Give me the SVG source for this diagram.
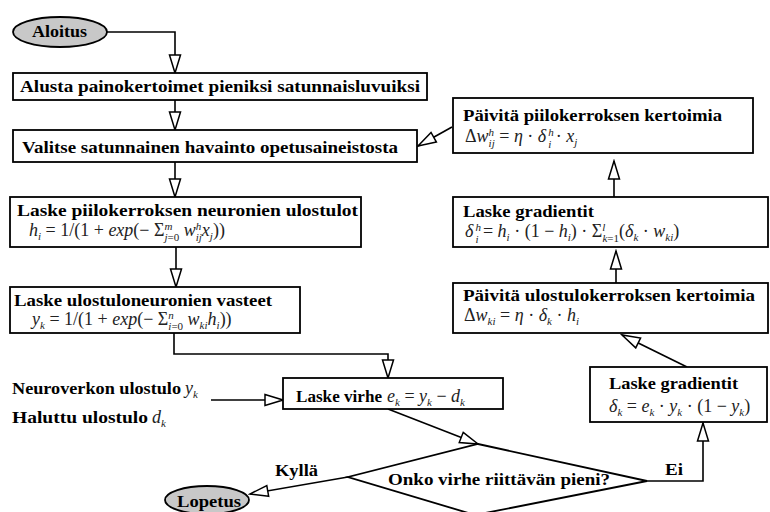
<svg xmlns="http://www.w3.org/2000/svg" width="770" height="512" viewBox="0 0 770 512">
<style>
.b{font-family:"Liberation Serif","Times New Roman",serif;font-weight:bold;font-size:16px;fill:#000}
.m{font-family:"Liberation Serif","Times New Roman",serif;font-style:italic;font-size:18px;fill:#222}
.r{font-style:normal}
.s{font-size:11px}
.box{fill:#fff;stroke:#000;stroke-width:1.8}
.term{fill:#c8c8c8;stroke:#000;stroke-width:1.8}
.c{fill:none;stroke:#000;stroke-width:1.6;marker-end:url(#ah)}
</style>
<defs>
<marker id="ah" markerUnits="userSpaceOnUse" markerWidth="22" markerHeight="14" refX="20" refY="7" orient="auto">
<path d="M2,1.5 L20,7 L2,12.5 Z" fill="#fff" stroke="#000" stroke-width="1.5"/>
</marker>
</defs>

<g id="connectors">
<path class="c" d="M107,32 H175 V73"/>
<path class="c" d="M175,100 V130"/>
<path class="c" d="M175,162 V197"/>
<path class="c" d="M176,247 V287"/>
<path class="c" d="M174,333 V354 H388 V378"/>
<path class="c" d="M211,400 H283"/>
<path class="c" d="M388,409 L478,444"/>
<path class="c" d="M348,477 L250,494"/>
<path class="c" d="M647,481 H703 V423"/>
<path class="c" d="M687,367 L622,335"/>
<path class="c" d="M616,283 V251"/>
<path class="c" d="M614,197 V161"/>
<path class="c" d="M452,127 L418,146"/>
</g>

<g id="aloitus">
<ellipse class="term" cx="60" cy="32" rx="47" ry="15"/>
<text class="b" x="32" y="37" textLength="55" lengthAdjust="spacingAndGlyphs">Aloitus</text>
</g>

<g id="alusta">
<rect class="box" x="13" y="73" width="414" height="27"/>
<text class="b" x="20" y="92" textLength="400" lengthAdjust="spacingAndGlyphs">Alusta painokertoimet pieniksi satunnaisluvuiksi</text>
</g>

<g id="valitse">
<rect class="box" x="13" y="130" width="404" height="32"/>
<text class="b" x="22" y="153" textLength="376" lengthAdjust="spacingAndGlyphs">Valitse satunnainen havainto opetusaineistosta</text>
</g>

<g id="piilo-ulostulot">
<rect class="box" x="10" y="197" width="351" height="50"/>
<text class="b" x="17" y="216" textLength="341" lengthAdjust="spacingAndGlyphs">Laske piilokerroksen neuronien ulostulot</text>
<text class="m" x="29" y="236">h<tspan class="s" dy="4">i</tspan><tspan class="r" dy="-4"> = 1/(1 + </tspan>exp<tspan class="r">(− Σ</tspan><tspan class="s" dy="-6.5">m</tspan><tspan class="s" dx="-8" dy="11.7">j<tspan class="r">=0</tspan></tspan><tspan dy="-5.2"> w</tspan><tspan class="s" dy="-6.5">h</tspan><tspan class="s" dx="-5.5" dy="11.7">ij</tspan><tspan dy="-5.2">x</tspan><tspan class="s" dy="4">j</tspan><tspan class="r" dy="-4">))</tspan></text>
</g>

<g id="ulostulo-vasteet">
<rect class="box" x="10" y="287" width="290" height="46"/>
<text class="b" x="14" y="306" textLength="258" lengthAdjust="spacingAndGlyphs">Laske ulostuloneuronien vasteet</text>
<text class="m" x="32" y="325">y<tspan class="s" dy="4">k</tspan><tspan class="r" dy="-4"> = 1/(1 + </tspan>exp<tspan class="r">(− Σ</tspan><tspan class="s" dy="-6.5">n</tspan><tspan class="s" dx="-5.5" dy="11.7">i<tspan class="r">=0</tspan></tspan><tspan dy="-5.2"> w</tspan><tspan class="s" dy="4">ki</tspan><tspan dy="-4">h</tspan><tspan class="s" dy="4">i</tspan><tspan class="r" dy="-4">))</tspan></text>
</g>

<g id="inputs">
<text class="b" x="12" y="394" textLength="169" lengthAdjust="spacingAndGlyphs">Neuroverkon ulostulo</text>
<text class="m" x="185" y="394">y<tspan class="s" dy="4">k</tspan></text>
<text class="b" x="12" y="423" textLength="136" lengthAdjust="spacingAndGlyphs">Haluttu ulostulo</text>
<text class="m" x="152" y="423">d<tspan class="s" dy="4">k</tspan></text>
</g>

<g id="virhe">
<rect class="box" x="283" y="378" width="220" height="31"/>
<text class="b" x="296" y="402" textLength="86" lengthAdjust="spacingAndGlyphs">Laske virhe</text>
<text class="m" x="387" y="402">e<tspan class="s" dy="4">k</tspan><tspan class="r" dy="-4"> = </tspan>y<tspan class="s" dy="4">k</tspan><tspan class="r" dy="-4"> − </tspan>d<tspan class="s" dy="4">k</tspan></text>
</g>

<g id="paatos">
<polygon class="box" points="478,444 647,481 475,515 348,477"/>
<text class="b" x="388" y="485" textLength="222" lengthAdjust="spacingAndGlyphs">Onko virhe riittävän pieni?</text>
</g>

<g id="labels">
<text class="b" x="275" y="476" textLength="43" lengthAdjust="spacingAndGlyphs">Kyllä</text>
<text class="b" x="665" y="475" textLength="18" lengthAdjust="spacingAndGlyphs">Ei</text>
</g>

<g id="lopetus">
<ellipse class="term" cx="207" cy="500" rx="42" ry="14"/>
<text class="b" x="177" y="507" textLength="64" lengthAdjust="spacingAndGlyphs">Lopetus</text>
</g>

<g id="gradientit-ulostulo">
<rect class="box" x="590" y="367" width="177" height="55"/>
<text class="b" x="609" y="389" textLength="129" lengthAdjust="spacingAndGlyphs">Laske gradientit</text>
<text class="m" x="609" y="412">δ<tspan class="s" dy="4">k</tspan><tspan class="r" dy="-4"> = </tspan>e<tspan class="s" dy="4">k</tspan><tspan class="r" dy="-4"> · </tspan>y<tspan class="s" dy="4">k</tspan><tspan class="r" dy="-4"> · (1 − </tspan>y<tspan class="s" dy="4">k</tspan><tspan class="r" dy="-4">)</tspan></text>
</g>

<g id="paivita-ulostulo">
<rect class="box" x="453" y="283" width="315" height="50"/>
<text class="b" x="463" y="301" textLength="292" lengthAdjust="spacingAndGlyphs">Päivitä ulostulokerroksen kertoimia</text>
<text class="m" x="464" y="321"><tspan class="r">Δ</tspan>w<tspan class="s" dy="4">ki</tspan><tspan class="r" dy="-4"> = </tspan>η<tspan class="r"> · </tspan>δ<tspan class="s" dy="4">k</tspan><tspan class="r" dy="-4"> · </tspan>h<tspan class="s" dy="4">i</tspan></text>
</g>

<g id="gradientit-piilo">
<rect class="box" x="453" y="197" width="315" height="50"/>
<text class="b" x="463" y="217" textLength="131" lengthAdjust="spacingAndGlyphs">Laske gradientit</text>
<text class="m" x="465" y="237">δ<tspan class="s" dx="2" dy="-6.3">h</tspan><tspan class="s" dx="-5.5" dy="12.4">i</tspan><tspan class="r" dy="-6.1"> = </tspan>h<tspan class="s" dy="4">i</tspan><tspan class="r" dy="-4"> · (1 − </tspan>h<tspan class="s" dy="4">i</tspan><tspan class="r" dy="-4">) · Σ</tspan><tspan class="s" dy="-6.5">l</tspan><tspan class="s" dx="-3" dy="11.7">k<tspan class="r">=1</tspan></tspan><tspan class="r" dy="-5.2">(</tspan>δ<tspan class="s" dy="4">k</tspan><tspan class="r" dy="-4"> · </tspan>w<tspan class="s" dy="4">ki</tspan><tspan class="r" dy="-4">)</tspan></text>
</g>

<g id="paivita-piilo">
<rect class="box" x="453" y="98" width="300" height="55"/>
<text class="b" x="463" y="121" textLength="259" lengthAdjust="spacingAndGlyphs">Päivitä piilokerroksen kertoimia</text>
<text class="m" x="465" y="142"><tspan class="r">Δ</tspan>w<tspan class="s" dy="-6.5">h</tspan><tspan class="s" dx="-5.5" dy="11.7">ij</tspan><tspan class="r" dy="-5.2"> = </tspan>η<tspan class="r"> · </tspan>δ<tspan class="s" dx="2" dy="-6.5">h</tspan><tspan class="s" dx="-5.5" dy="12.4">i</tspan><tspan class="r" dy="-5.9"> · </tspan>x<tspan class="s" dy="4">j</tspan></text>
</g>
</svg>
